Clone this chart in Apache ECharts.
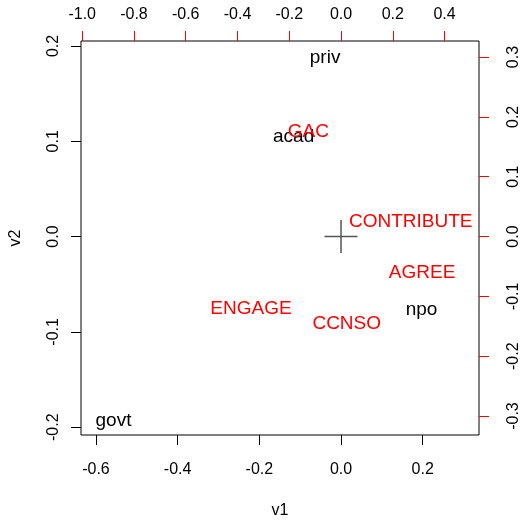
<!DOCTYPE html>
<html>
<head>
<meta charset="utf-8">
<script src="https://cdn.jsdelivr.net/npm/echarts@6/dist/echarts.min.js"></script>
<style>
  html, body { margin: 0; padding: 0; background: #fff; }
  #main { width: 522px; height: 524px; }
</style>
</head>
<body>
<div id="main"></div>
<script>
// observations (black, bottom/left scale)
const obsNames = ['priv', 'acad', 'npo', 'govt'];
const obsV1 = [-0.039, -0.116, 0.197, -0.557];
const obsV2 = [0.190, 0.107, -0.074, -0.191];

// variables (red, top/right scale)
const varNames = ['GAC', 'CONTRIBUTE', 'AGREE', 'ENGAGE', 'CCNSO'];
const varX = [-0.126, 0.269, 0.313, -0.348, 0.022];
const varY = [0.1795, 0.0284, -0.0563, -0.1161, -0.1424];

// tick labels
const bottomTicks = [-0.6, -0.4, -0.2, 0.0, 0.2];
const leftTicks = [-0.2, -0.1, 0.0, 0.1, 0.2];
const topTicks = [-1.0, -0.8, -0.6, -0.4, -0.2, 0.0, 0.2, 0.4];
const rightTicks = [-0.3, -0.2, -0.1, 0.0, 0.1, 0.2, 0.3];

const FONT = 'Liberation Sans, Arial, sans-serif';

function fmt(v) { return Number(v).toFixed(1); }

function axisCommon(color, ticks, margin, rotate) {
  return {
    type: 'value',
    splitLine: { show: false },
    axisLine: { show: false, onZero: false },
    axisTick: { show: true, length: 10, customValues: ticks, lineStyle: { color: color, width: 1 } },
    axisLabel: {
      show: true, customValues: ticks, formatter: fmt, margin: margin, rotate: rotate || 0,
      color: '#000', fontSize: 16, fontFamily: FONT,
      showMinLabel: true, showMaxLabel: true, hideOverlap: false
    }
  };
}

let chart = echarts.init(document.getElementById('main'));

let option = {
  backgroundColor: '#fff',
  animation: false,
  grid: {
    left: 81, right: 41.5, top: 41, bottom: 82,
    show: true, borderColor: '#000', borderWidth: 1, backgroundColor: 'transparent'
  },
  xAxis: [
    Object.assign(axisCommon('#000', bottomTicks, 27), {
      position: 'bottom', min: -0.6366, max: 0.3378,
      name: 'v1', nameLocation: 'middle', nameGap: 68,
      nameTextStyle: { fontSize: 16, fontFamily: FONT, color: '#000' }
    }),
    Object.assign(axisCommon('#ff0000', topTicks, 18), {
      position: 'top', min: -1.0046, max: 0.533
    })
  ],
  yAxis: [
    Object.assign(axisCommon('#000', leftTicks, 19, 90), {
      position: 'left', min: -0.2082, max: 0.2052,
      name: 'v2', nameLocation: 'middle', nameGap: 57,
      nameTextStyle: { fontSize: 16, fontFamily: FONT, color: '#000' }
    }),
    Object.assign(axisCommon('#ff0000', rightTicks, 27, 90), {
      position: 'right', min: -0.3317, max: 0.3268
    })
  ],
  series: [
    {
      type: 'scatter', xAxisIndex: 0, yAxisIndex: 0,
      symbol: 'path://M0,16.5H33M16.5,0V33', symbolSize: 33,
      itemStyle: { color: 'none', borderColor: '#555', borderWidth: 1.5, opacity: 1 },
      data: [[0, 0]], silent: true
    },
    {
      type: 'scatter', xAxisIndex: 0, yAxisIndex: 0, symbolSize: 0,
      itemStyle: { opacity: 1 },
      label: { show: true, position: 'inside', offset: [0, 2.5], formatter: p => p.name, color: '#000', opacity: 1, fontSize: 19, fontFamily: FONT },
      data: obsNames.map((n, i) => ({ name: n, value: [obsV1[i], obsV2[i]] }))
    },
    {
      type: 'scatter', xAxisIndex: 1, yAxisIndex: 1, symbolSize: 0,
      itemStyle: { opacity: 1 },
      label: { show: true, position: 'inside', offset: [0, 2.5], formatter: p => p.name, color: '#ff0000', opacity: 1, fontSize: 19, fontFamily: FONT },
      data: varNames.map((n, i) => ({ name: n, value: [varX[i], varY[i]] }))
    }
  ]
};

chart.setOption(option);
</script>
</body>
</html>
